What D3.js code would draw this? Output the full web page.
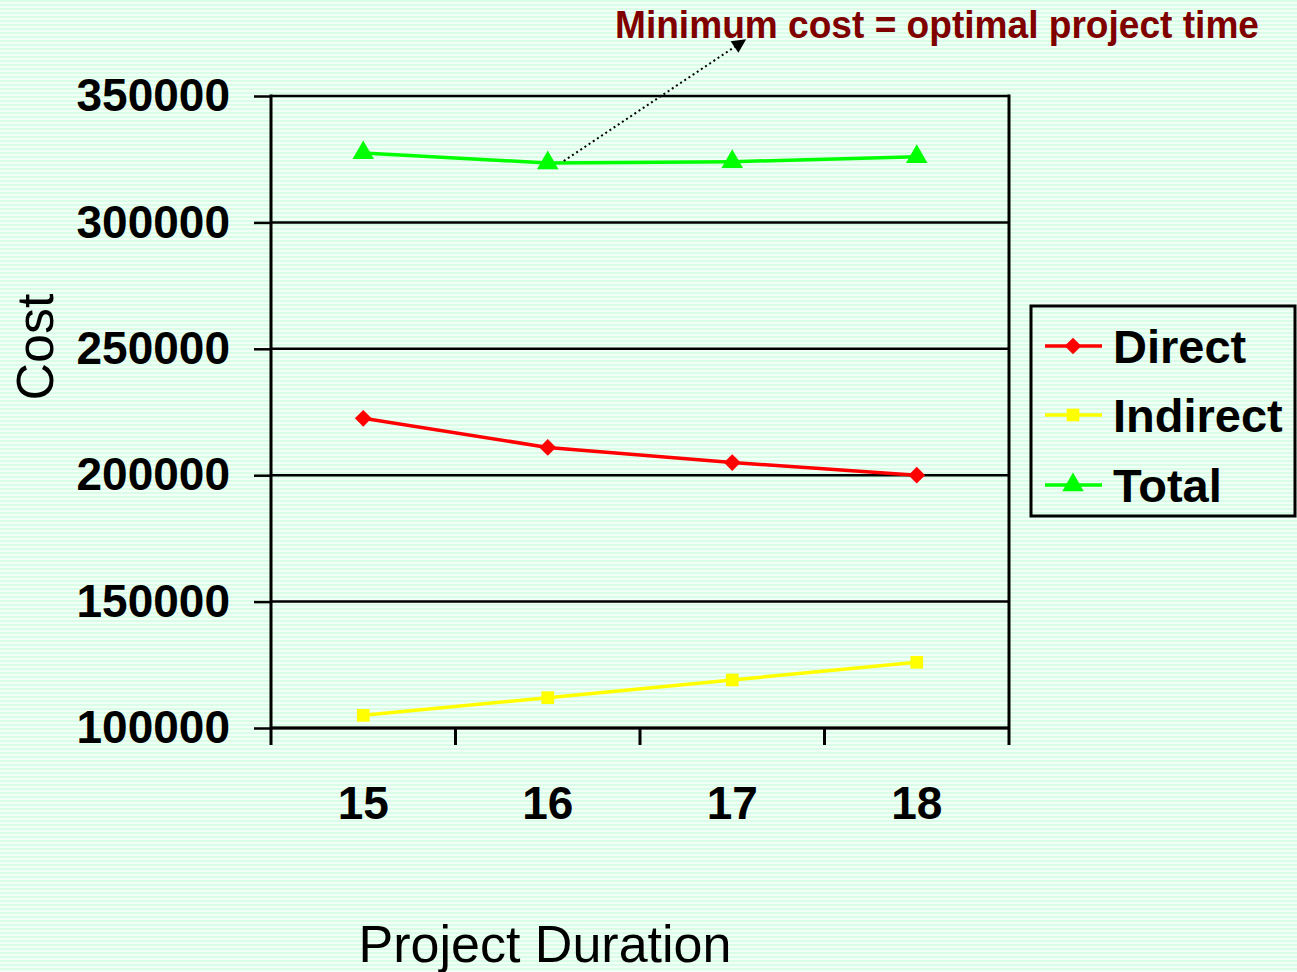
<!DOCTYPE html>
<html>
<head>
<meta charset="utf-8">
<script src="https://cdn.jsdelivr.net/npm/d3@7"></script>
<style>
  html, body { margin: 0; padding: 0; background: #e6fff0; }
  svg { display: block; }
</style>
</head>
<body>
<svg id="chart" width="1297" height="972"></svg>
<script>
// Project cost versus project duration
const durations = ["15", "16", "17", "18"];
const directCost = [222500, 211000, 205000, 200000];
const indirectCost = [105000, 112000, 119000, 126000];
const totalCost = [327500, 323500, 324000, 326000];
const yTicks = [100000, 150000, 200000, 250000, 300000, 350000];
const seriesNames = ["Direct", "Indirect", "Total"];

const svg = d3.select("#chart");
const W = 1297, H = 972;
const plot = { left: 271, right: 1009, top: 96, bottom: 728 };

// striped mint background
const defs = svg.append("defs");
const pat = defs.append("pattern")
  .attr("id", "stripes").attr("patternUnits", "userSpaceOnUse")
  .attr("width", 8).attr("height", 4);
pat.append("rect").attr("width", 8).attr("height", 4).attr("fill", "#f2fff6");
pat.append("rect").attr("width", 8).attr("height", 2).attr("fill", "#d9fde6");

svg.append("rect").attr("width", W).attr("height", H).attr("fill", "url(#stripes)");

const x = d3.scaleBand().domain(durations).range([plot.left, plot.right]).padding(0);
const y = d3.scaleLinear().domain([100000, 350000]).range([plot.bottom, plot.top]);

// horizontal gridlines
svg.append("g").selectAll("line")
  .data(yTicks).join("line")
  .attr("x1", plot.left).attr("x2", plot.right)
  .attr("y1", d => y(d)).attr("y2", d => y(d))
  .attr("stroke", "#000").attr("stroke-width", 2.5);

// right border of plot area
svg.append("line")
  .attr("x1", plot.right).attr("x2", plot.right)
  .attr("y1", plot.top - 1.5).attr("y2", plot.bottom + 17)
  .attr("stroke", "#000").attr("stroke-width", 3);

// y axis
const yAxis = svg.append("g")
  .attr("transform", `translate(${plot.left},0)`)
  .call(d3.axisLeft(y).tickValues(yTicks).tickFormat(d3.format("d")).tickSize(17).tickPadding(24));
yAxis.select(".domain").attr("d", `M0,${plot.top - 1.5}V${plot.bottom + 17}`).attr("stroke-width", 3);
yAxis.selectAll(".tick line").attr("stroke-width", 2.5);
yAxis.selectAll("text")
  .attr("font-family", "'Liberation Sans', Arial, sans-serif")
  .attr("font-weight", "bold").attr("font-size", 46).attr("fill", "#000");

// x axis: ticks sit at band boundaries
const xAxis = svg.append("g")
  .attr("transform", `translate(0,${plot.bottom})`)
  .call(d3.axisBottom(x).tickSize(0).tickPadding(58));
xAxis.select(".domain").attr("d", `M${plot.left},0H${plot.right}`).attr("stroke-width", 3);
xAxis.selectAll("text")
  .attr("font-family", "'Liberation Sans', Arial, sans-serif")
  .attr("font-weight", "bold").attr("font-size", 46).attr("fill", "#000");
xAxis.append("g").selectAll("line")
  .data(durations.slice(1)).join("line")
  .attr("x1", d => x(d)).attr("x2", d => x(d))
  .attr("y1", 0).attr("y2", 17)
  .attr("stroke", "#000").attr("stroke-width", 3);

// axis titles
svg.append("text")
  .attr("x", 545).attr("y", 962)
  .attr("text-anchor", "middle")
  .attr("font-family", "'Liberation Sans', Arial, sans-serif")
  .attr("font-size", 52).attr("fill", "#000")
  .text("Project Duration");
svg.append("text")
  .attr("transform", "translate(53,347) rotate(-90)")
  .attr("text-anchor", "middle")
  .attr("font-family", "'Liberation Sans', Arial, sans-serif")
  .attr("font-size", 52).attr("fill", "#000")
  .text("Cost");

// series; the Direct marker is a square turned 45 degrees
const series = [
  { name: seriesNames[0], values: directCost, color: "#ff0000", symbol: d3.symbolSquare, size: 140, rot: 45 },
  { name: seriesNames[1], values: indirectCost, color: "#ffff00", symbol: d3.symbolSquare, size: 160, rot: 0 },
  { name: seriesNames[2], values: totalCost, color: "#00ff00", symbol: d3.symbolTriangle, size: 200, rot: 0 }
];

const cx = d => x(d) + x.bandwidth() / 2;
const line = d3.line().x(d => cx(d.k)).y(d => y(d.v));

series.forEach(s => {
  const pts = durations.map((k, i) => ({ k, v: s.values[i] }));
  svg.append("path")
    .attr("d", line(pts))
    .attr("fill", "none").attr("stroke", s.color).attr("stroke-width", 3.5);
  svg.append("g").selectAll("path")
    .data(pts).join("path")
    .attr("transform", d => `translate(${cx(d.k)},${y(d.v)}) rotate(${s.rot})`)
    .attr("d", d3.symbol().type(s.symbol).size(s.size))
    .attr("fill", s.color);
});

// annotation with dotted arrow to the minimum total cost
const minIdx = d3.minIndex(totalCost);
const ax0 = cx(durations[minIdx]) + 16, ay0 = y(totalCost[minIdx]) - 2;
const ax1 = 745, ay1 = 40;
defs.append("marker")
  .attr("id", "arrowhead").attr("viewBox", "0 0 10 10")
  .attr("refX", 9).attr("refY", 5)
  .attr("markerWidth", 15).attr("markerHeight", 14)
  .attr("markerUnits", "userSpaceOnUse")
  .attr("orient", "auto")
  .append("path").attr("d", "M0,0L10,5L0,10Z").attr("fill", "#000");
svg.append("line")
  .attr("x1", ax0).attr("y1", ay0).attr("x2", ax1).attr("y2", ay1)
  .attr("stroke", "#000").attr("stroke-width", 2).attr("stroke-dasharray", "2,3")
  .attr("marker-end", "url(#arrowhead)");

svg.append("text")
  .attr("x", 615).attr("y", 38)
  .attr("font-family", "'Liberation Sans', Arial, sans-serif")
  .attr("font-weight", "bold").attr("font-size", 38).attr("fill", "#800000")
  .attr("textLength", 644).attr("lengthAdjust", "spacingAndGlyphs")
  .text("Minimum cost = optimal project time");

// legend
const lg = svg.append("g");
lg.append("rect")
  .attr("x", 1031).attr("y", 306).attr("width", 264).attr("height", 210)
  .attr("fill", "url(#stripes)").attr("stroke", "#000").attr("stroke-width", 3);
const rowY = [346, 415, 485];
series.forEach((s, i) => {
  lg.append("line")
    .attr("x1", 1045).attr("x2", 1102).attr("y1", rowY[i]).attr("y2", rowY[i])
    .attr("stroke", s.color).attr("stroke-width", 3.5);
  lg.append("path")
    .attr("transform", `translate(1073,${rowY[i]}) rotate(${s.rot})`)
    .attr("d", d3.symbol().type(s.symbol).size(s.size))
    .attr("fill", s.color);
  lg.append("text")
    .attr("x", 1113).attr("y", rowY[i]).attr("dy", "0.36em")
    .attr("font-family", "'Liberation Sans', Arial, sans-serif")
    .attr("font-weight", "bold").attr("font-size", 47).attr("fill", "#000")
    .text(s.name);
});
</script>
</body>
</html>
